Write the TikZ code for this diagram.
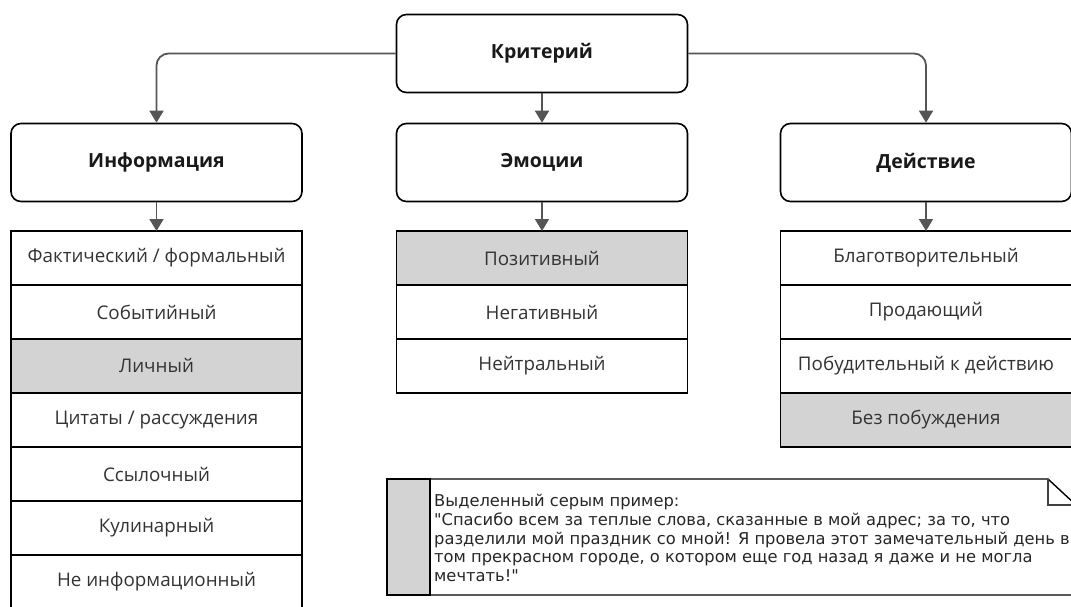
\documentclass[tikz,border=0pt]{standalone}
\usepackage{fontspec}
\setmainfont{Open Sans}
\newfontfamily\notefont{DejaVu Sans}
\usetikzlibrary{positioning,arrows.meta}
\definecolor{hlgrey}{HTML}{D3D3D3}
\definecolor{wire}{HTML}{555555}
\tikzset{hd/.style={draw,line width=1.6pt,rounded corners=10pt,minimum width=291pt,minimum height=78pt,text=black!90,font=\fontsize{19.5}{19.5}\selectfont\bfseries}}
\tikzset{it/.style={draw,line width=1.6pt,outer sep=0pt,inner sep=0pt,minimum width=291pt,minimum height=54pt,text=black!80,font=\fontsize{18.8}{18.8}\selectfont}}
\tikzset{hl/.style={it,fill=hlgrey}}
\tikzset{ar/.style={draw=wire,line width=1.8pt,-{Triangle[width=14pt,length=12pt]}}}

\begin{document}
\begin{tikzpicture}[x=1pt,y=-1pt]
        \useasboundingbox (0,0) rectangle (1071,606);
        \clip (0,0) rectangle (1071,606);
        \node[hd] (crit) at (542,53.5) {Критерий};
        \node[hd] (info) at (156.5,162.5) {Информация};
        \node[hd] (emo) at (542,162.5) {Эмоции};
        \node[hd] (act) at (926,162.5) {Действие};
        \draw[ar,rounded corners=12pt] (crit.west) -| (info.north);
        \draw[ar,rounded corners=12pt] (crit.east) -| (act.north);
        \draw[ar] (crit) -- (emo);

        \node[it,anchor=north] (i1) at (156.5,231) {Фактический / формальный};
        \node[it,below=0pt of i1] (i2) {Событийный};
        \node[hl,below=0pt of i2] (i3) {Личный};
        \node[it,below=0pt of i3] (i4) {Цитаты / рассуждения};
        \node[it,below=0pt of i4] (i5) {Ссылочный};
        \node[it,below=0pt of i5] (i6) {Кулинарный};
        \node[it,below=0pt of i6] (i7) {Не информационный};
        \draw[ar] (info) -- (i1);

        \node[hl,anchor=north] (e1) at (542,231) {Позитивный};
        \node[it,below=0pt of e1] (e2) {Негативный};
        \node[it,below=0pt of e2] (e3) {Нейтральный};
        \draw[ar] (emo) -- (e1);

        \node[it,anchor=north] (a1) at (926,231) {Благотворительный};
        \node[it,below=0pt of a1] (a2) {Продающий};
        \node[it,below=0pt of a2] (a3) {Побудительный к действию};
        \node[hl,below=0pt of a3] (a4) {Без побуждения};
        \draw[ar] (act) -- (a1);

        % note with folded corner
        \draw[line width=1.4pt] (387,479) -- (1048,479) -- (1076,505) -- (1076,595) -- (387,595) -- cycle;
        \draw[line width=1.4pt,draw=black!75] (1048,479) |- (1076,505);
        \filldraw[line width=1.4pt,fill=hlgrey] (387,479) rectangle (430,595);
        \node[anchor=west,inner sep=0pt,align=left,text=black!85,font=\notefont\fontsize{16.3}{18.8}\selectfont] (txt) at (434,538)
          {Выделенный серым пример:\\
           "Спасибо всем за теплые слова, сказанные в мой адрес; за то, что\\
           разделили мой праздник со мной! Я провела этот замечательный день в\\
           том прекрасном городе, о котором еще год назад я даже и не могла\\
           мечтать!"};
      \end{tikzpicture}
\end{document}
